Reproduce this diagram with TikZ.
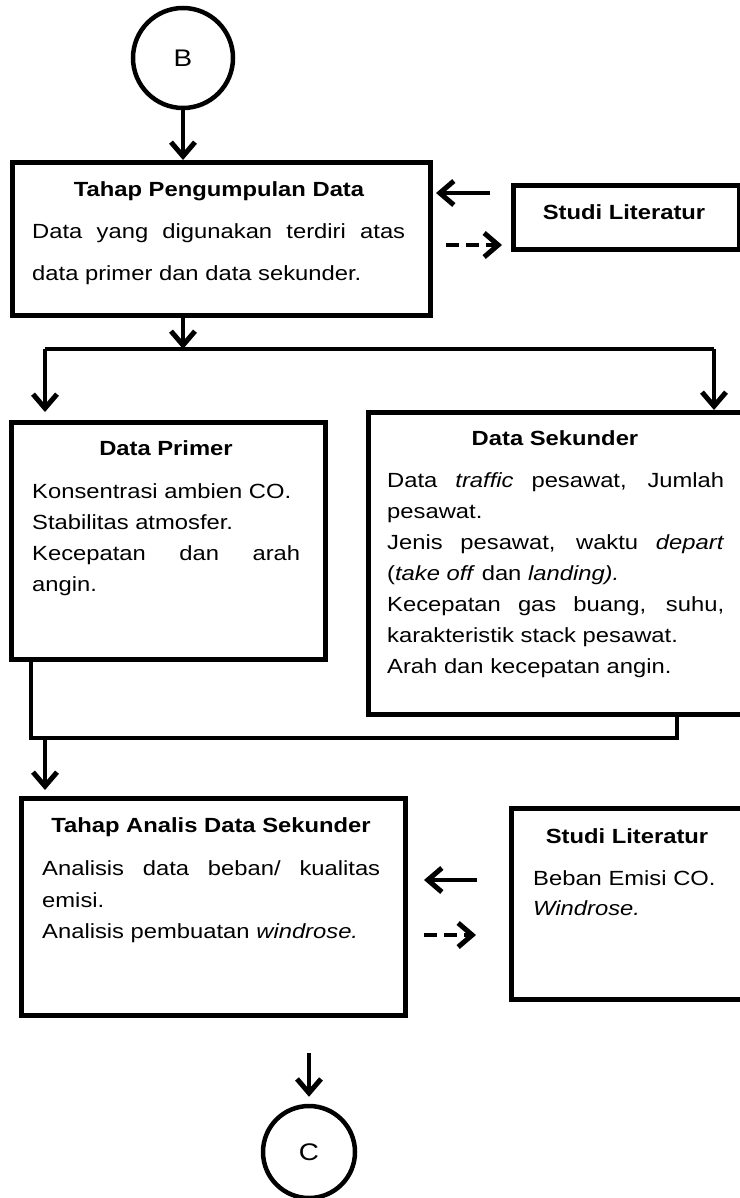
\documentclass[tikz,border=0pt]{standalone}
\usepackage{fontspec}
\setmainfont[FakeStretch=1.16]{Liberation Sans}
\usetikzlibrary{arrows.meta}

\tikzset{
  kotak/.style={draw, line width=5pt, inner sep=0pt, anchor=north west},
  bulat/.style={draw, circle, line width=4.5pt, inner sep=0pt, font=\fontsize{24}{26}\selectfont},
  judul/.style={font=\bfseries\fontsize{20.5}{24}\selectfont, inner sep=0pt, anchor=base},
  isi/.style={font=\fontsize{20.5}{24}\selectfont, inner sep=0pt, anchor=base west},
  garis/.style={line width=4.5pt},
  panah/.style={line width=4.5pt, -{Straight Barb[length=14pt,width=24pt,line width=5pt]}},
  putus/.style={panah, dash pattern=on 13pt off 7pt},
}

\begin{document}
\begin{tikzpicture}[x=1pt, y=-1pt]
            \useasboundingbox (0,0) rectangle (739,1198);
            % konektor
            \node[bulat, minimum size=100pt](B)at(183,58){B};
            \node[bulat, minimum size=92pt](C)at(309,1152){C};
            % tahap pengumpulan data
            \node[kotak, minimum width=418pt, minimum height=153pt](kumpul)at(10,160){};
            \node[judul](kumpulJ)at(219,197){Tahap Pengumpulan Data};
            \node[isi](kumpul1)at(32,239){\makebox[373pt][s]{Data yang digunakan terdiri atas}};
            \node[isi](kumpul2)at(32,280){data primer dan data sekunder.};
            \node[kotak, minimum width=226pt, minimum height=64pt](studiA)at(511,183){};
            \node[judul](studiAJ)at(624,220){Studi Literatur};
            % data primer
            \node[kotak, minimum width=314pt, minimum height=237pt](primer)at(9,420){};
            \node[judul](primerJ)at(166,455){Data Primer};
            \node[isi](primer1)at(32,498){Konsentrasi ambien CO.};
            \node[isi](primer2)at(32,529){Stabilitas atmosfer.};
            \node[isi](primer3)at(32,560){\makebox[268pt][s]{Kecepatan dan arah}};
            \node[isi](primer4)at(32,591){angin.};
            % data sekunder
            \node[kotak, minimum width=378pt, minimum height=302pt](sekunder)at(366,410){};
            \node[judul](sekunderJ)at(555,445){Data Sekunder};
            \node[isi](sekunder1)at(387,487){\makebox[337pt][s]{Data \textit{traffic} pesawat, Jumlah}};
            \node[isi](sekunder2)at(387,518){pesawat.};
            \node[isi](sekunder3)at(387,549){\makebox[337pt][s]{Jenis pesawat, waktu \textit{depart}}};
            \node[isi](sekunder4)at(387,580){(\textit{take off} dan \textit{landing).}};
            \node[isi](sekunder5)at(387,611){\makebox[337pt][s]{Kecepatan gas buang, suhu,}};
            \node[isi](sekunder6)at(387,642){karakteristik stack pesawat.};
            \node[isi](sekunder7)at(387,673){Arah dan kecepatan angin.};
            % tahap analisis
            \node[kotak, minimum width=384pt, minimum height=217pt](analisis)at(19,796){};
            \node[judul](analisisJ)at(211,832){Tahap Analis Data Sekunder};
            \node[isi](analisis1)at(42,875){\makebox[338pt][s]{Analisis data beban/ kualitas}};
            \node[isi](analisis2)at(42,907){emisi.};
            \node[isi](analisis3)at(42,938){Analisis pembuatan \textit{windrose.}};
            \node[kotak, minimum width=235pt, minimum height=191pt](studiB)at(509,806){};
            \node[judul](studiBJ)at(627,843){Studi Literatur};
            \node[isi](studiB1)at(533,885){Beban Emisi CO.};
            \node[isi](studiB2)at(533,915){\textit{Windrose.}};
            % titik bantu
            \coordinate(kiriA1)at(490,193);
            \coordinate(kiriA2)at(436,193);
            \coordinate(kananA1)at(446,245);
            \coordinate(kananA2)at(502,245);
            \coordinate(kiriB1)at(477,880);
            \coordinate(kiriB2)at(424,880);
            \coordinate(kananB1)at(424,935);
            \coordinate(kananB2)at(476,935);
            \coordinate(cabang)at(183,349);
            \coordinate(cabangL)at(45,349);
            \coordinate(cabangR)at(714,349);
            \coordinate(gabungL)at(31,738);
            \coordinate(gabungR)at(677,738);
            \coordinate(turun)at(45,738);
            % panah
            \path[draw, panah](B)to(B |- kumpul.north);
            \path[draw, panah](kiriA1)to(kiriA2);
            \path[draw, putus](kananA1)to(kananA2);
            \path[draw, panah](kumpul.south -| cabang)to(cabang);
            \path[draw, garis](cabangL)to(cabangR);
            \path[draw, panah, shorten >=8pt](cabangL)to(cabangL |- primer.north);
            \path[draw, panah](cabangR)to(cabangR |- sekunder.north);
            \path[draw, garis](gabungL |- primer.south)--(gabungL)--(gabungR)--(gabungR |- sekunder.south);
            \path[draw, panah, shorten >=6pt](turun)to(turun |- analisis.north);
            \path[draw, panah](kiriB1)to(kiriB2);
            \path[draw, putus](kananB1)to(kananB2);
            \path[draw, panah, shorten <=35pt, shorten >=7pt](analisis.south -| C)to(C);
        \end{tikzpicture}
\end{document}
